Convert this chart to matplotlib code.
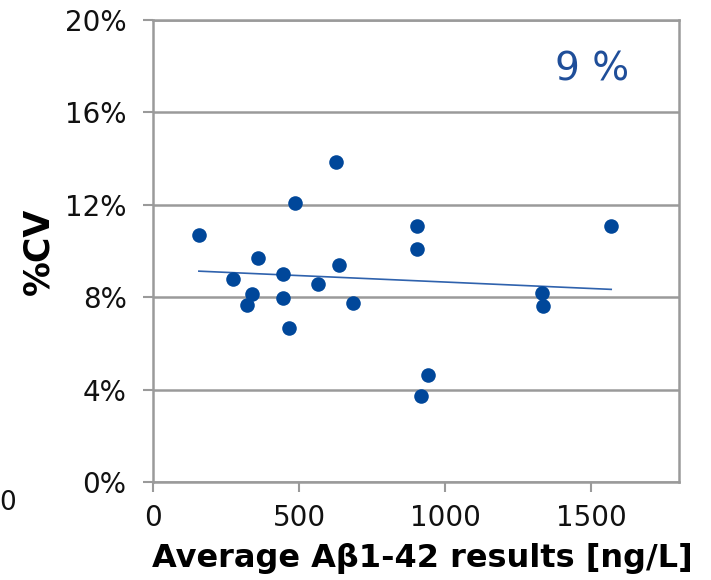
#!/usr/bin/env python3
"""
Scatter of %CV against average Abeta1-42 result, with a linear trend line
"""
import numpy as np
import matplotlib
matplotlib.use("Agg")
import matplotlib.pyplot as plt
from matplotlib.ticker import FuncFormatter

# average result [ng/L] and %CV for each sample
avg_result = [157, 274, 339, 360, 445, 487, 626, 637, 566, 322,
              445, 465, 685, 903, 903, 1568, 1332, 1336, 941, 918]
cv_pct = [10.69, 8.79, 8.14, 9.70, 9.00, 12.08, 13.85, 9.39, 8.57, 7.66,
          7.96, 6.67, 7.75, 11.08, 10.08, 11.08, 8.18, 7.62, 4.63, 3.72]
mean_cv_label = "9 %"

x_ticks = [0, 500, 1000, 1500]
y_ticks = [0, 4, 8, 12, 16, 20]

dot_color = "#00479a"
line_color = "#2f62ad"
grid_color = "#9a9a9a"

fig = plt.figure(figsize=(7.11, 5.8), dpi=100)
ax = fig.add_axes([153 / 711, 1 - 482 / 580, 526 / 711, 462 / 580])

ax.scatter(avg_result, cv_pct, s=110, color=dot_color, zorder=3, linewidths=0)

# linear trend over the data range
slope, intercept = np.polyfit(avg_result, cv_pct, 1)
xs = np.array([min(avg_result), max(avg_result)])
ax.plot(xs, slope * xs + intercept, color=line_color, lw=1.2, zorder=2)

ax.set_xlim(0, 1800)
ax.set_ylim(0, 20)
ax.set_xticks(x_ticks)
ax.set_yticks(y_ticks)
ax.yaxis.set_major_formatter(FuncFormatter(lambda v, _: "{:.0f}%".format(v)))

ax.grid(axis="y", color=grid_color, lw=1.8, zorder=0)
for side in ax.spines.values():
    side.set_color(grid_color)
    side.set_linewidth(1.8)
ax.tick_params(axis="both", direction="out", length=7, width=1.5,
               color=grid_color, labelsize=20, labelcolor="#111111")
ax.tick_params(axis="y", pad=12)
ax.tick_params(axis="x", pad=9)

ax.set_xlabel("Average A\u03b21-42 results [ng/L]", fontsize=23,
              fontweight="bold")
ax.xaxis.set_label_coords(0.512, -0.133)
ax.set_ylabel("%CV", fontsize=25, fontweight="bold")
ax.yaxis.set_label_coords(-0.186, 0.5)

ax.text(0.835, 0.892, mean_cv_label, transform=ax.transAxes, fontsize=28,
        color="#1f4e99", ha="center", va="center")

# leftover label at the far left edge of the original picture
fig.text(8 / 711, 1 - 503 / 580, "0", fontsize=19, color="#111111",
         ha="center", va="center")

plt.savefig("out.png", dpi=100)
